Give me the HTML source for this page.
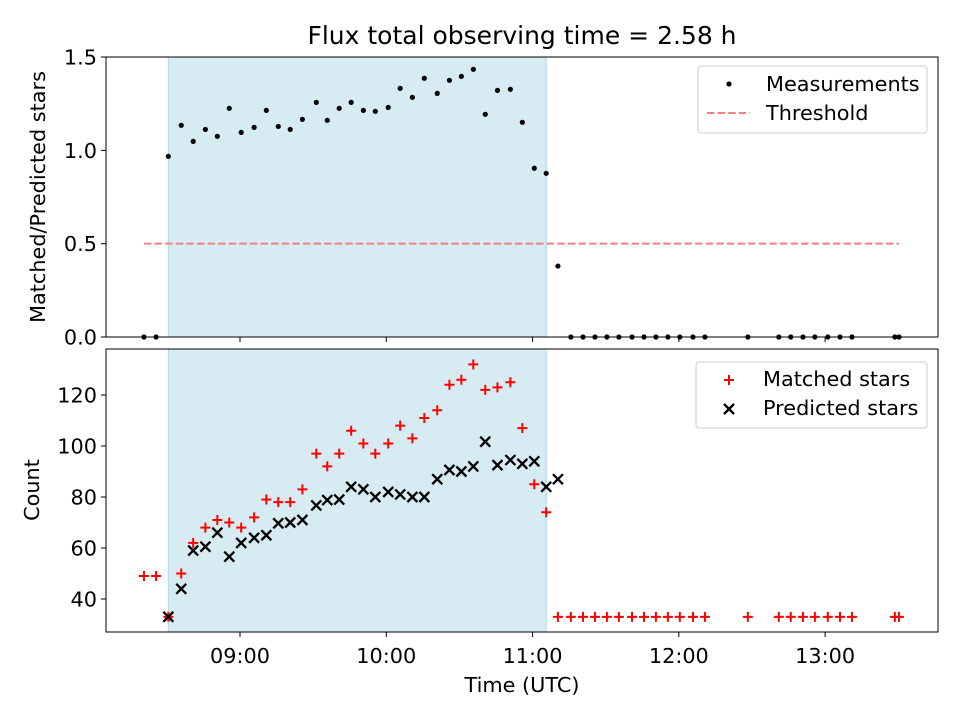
<!DOCTYPE html>
<html><head><meta charset="utf-8"><style>
body{margin:0;background:#fff}
svg{display:block;font-family:"DejaVu Sans","Liberation Sans",sans-serif}
</style></head><body>
<svg id="chart" width="960" height="720" viewBox="0 0 960 720" xmlns="http://www.w3.org/2000/svg"></svg>
<script>
// minutes after 08:00
const ratioTimes=[20.6,25.6,30.6,35.9,40.8,45.8,50.7,55.6,60.5,65.8,70.8,75.7,80.6,85.6,91.3,95.8,100.7,105.6,110.6,115.5,120.8,125.7,130.7,135.6,140.9,145.9,150.8,155.7,160.6,165.6,170.9,175.8,180.7,185.6,190.4,195.7,200.7,205.6,210.5,215.4,220.8,225.7,230.6,235.5,240.4,245.8,250.7,268.3,281.0,285.9,290.9,295.8,301.1,306.1,311.0,328.6,330.3];
const ratioValues=[0,0,0.968,1.134,1.048,1.112,1.075,1.225,1.096,1.123,1.214,1.128,1.112,1.166,1.257,1.161,1.225,1.257,1.214,1.209,1.230,1.332,1.284,1.386,1.305,1.375,1.396,1.434,1.193,1.321,1.327,1.150,0.904,0.877,0.38,0,0,0,0,0,0,0,0,0,0,0,0,0,0,0,0,0,0,0,0,0,0];
const matchedTimes=ratioTimes;
const matchedValues=[49,49,33,50,62,68,71,70,68,72,79,78,78,83,97,92,97,106,101,97,101,108,103,111,114,124,126,132,122,123,125,107,85,74,33,33,33,33,33,33,33,33,33,33,33,33,33,33,33,33,33,33,33,33,33,33,33];
const predictedTimes=[30.6,35.9,40.8,45.8,50.7,55.6,60.5,65.8,70.8,75.7,80.6,85.6,91.3,95.8,100.7,105.6,110.6,115.5,120.8,125.7,130.7,135.6,140.9,145.9,150.8,155.7,160.6,165.6,170.9,175.8,180.7,185.6,190.4];
const predictedValues=[33,44,59,60.5,66,56.6,62,64,65,69.7,70,71,76.7,78.8,79,84,83,80,82,81,80,80,87,90.6,90,92,101.7,92.5,94.5,93,94,84,87];
const threshold=0.5, thresholdRange=[20.6,330.3];
const observedRange=[30.6,185.6];
const xTicks=[60,120,180,240,300];
const xTickLabels=["09:00","10:00","11:00","12:00","13:00"];
const topTicks=[0,0.5,1.0,1.5], topTickLabels=["0.0","0.5","1.0","1.5"];
const botTicks=[40,60,80,100,120], botTickLabels=["40","60","80","100","120"];

const NS="http://www.w3.org/2000/svg", svg=document.getElementById('chart');
function mk(tag,attrs,parent,text){const e=document.createElementNS(NS,tag);for(const k in attrs)e.setAttribute(k,attrs[k]);if(text!==undefined)e.textContent=text;(parent||svg).appendChild(e);return e;}
const L=106,R=938;
const xs=m=>240+(m-60)*2.438;
const T={t:57,b:337}, B={t:349,b:632};
const yTop=v=>337-v*186.67;
const yBot=v=>395-(v-120)*2.55;
const LAB='20.8px', TICK='20.8px';

let g,e;
e=mk('text',{x:522,y:44,'text-anchor':'middle',style:'font-size:25px'},svg,'Flux total observing time = 2.58 h');



function panel(pt,pb,name){
  e=mk('rect',{x:xs(observedRange[0]),y:pt,width:xs(observedRange[1])-xs(observedRange[0]),height:pb-pt,fill:'#add8e6','fill-opacity':0.5,stroke:'#add8e6','stroke-width':1},svg);
  
  
}
panel(T.t,T.b,'top');panel(B.t,B.b,'bottom');

e=mk('line',{x1:xs(thresholdRange[0]),x2:xs(thresholdRange[1]),y1:yTop(threshold),y2:yTop(threshold),stroke:'#f08080','stroke-width':2,'stroke-dasharray':'7.4,3.2'});



g=mk('g',{});


ratioTimes.forEach((t,i)=>{const c=mk('circle',{cx:xs(t),cy:yTop(ratioValues[i]),r:2.6,fill:'#000'},g);

});

g=mk('g',{});


matchedTimes.forEach((t,i)=>{const x=xs(t),y=yBot(matchedValues[i]);const p=mk('path',{d:`M${x-5},${y}H${x+5}M${x},${y-5}V${y+5}`,stroke:'#f00','stroke-width':2},g);

});

g=mk('g',{});


predictedTimes.forEach((t,i)=>{const x=xs(t),y=yBot(predictedValues[i]);const p=mk('path',{d:`M${x-5},${y-5}L${x+5},${y+5}M${x-5},${y+5}L${x+5},${y-5}`,stroke:'#000','stroke-width':2.3},g);

});

e=mk('rect',{x:L,y:T.t,width:R-L,height:T.b-T.t,fill:'none',stroke:'#000','stroke-width':1});


e=mk('rect',{x:L,y:B.t,width:R-L,height:B.b-B.t,fill:'none',stroke:'#000','stroke-width':1});



xTicks.forEach((m,i)=>{const x=xs(m);
 mk('line',{x1:x,x2:x,y1:T.b,y2:T.b+5,stroke:'#000'});
 mk('line',{x1:x,x2:x,y1:B.b,y2:B.b+5,stroke:'#000'});
 const t=mk('text',{x:x,y:663,'text-anchor':'middle',style:'font-size:'+TICK},svg,xTickLabels[i]);
 
 });
topTicks.forEach((v,i)=>{const y=yTop(v);mk('line',{x1:L-5,x2:L,y1:y,y2:y,stroke:'#000'});
 const t=mk('text',{x:L-9,y:y+7.5,'text-anchor':'end',style:'font-size:'+TICK},svg,topTickLabels[i]);
 
 });
botTicks.forEach((v,i)=>{const y=yBot(v);mk('line',{x1:L-5,x2:L,y1:y,y2:y,stroke:'#000'});
 const t=mk('text',{x:L-9,y:y+7.5,'text-anchor':'end',style:'font-size:'+TICK},svg,botTickLabels[i]);
 
 });

e=mk('text',{x:522,y:692,'text-anchor':'middle',style:'font-size:'+LAB},svg,'Time (UTC)');


e=mk('text',{x:0,y:0,'text-anchor':'middle',style:'font-size:'+LAB,transform:'translate(45,197) rotate(-90)'},svg,'Matched/Predicted stars');


e=mk('text',{x:0,y:0,'text-anchor':'middle',style:'font-size:'+LAB,transform:'translate(39,490) rotate(-90)'},svg,'Count');



g=mk('g',{});


mk('rect',{x:698,y:66,width:229,height:67,rx:3,fill:'#fff','fill-opacity':0.8,stroke:'#ccc'},g);
mk('circle',{cx:729,cy:84,r:2.6,fill:'#000'},g);
e=mk('text',{x:766,y:91,style:'font-size:'+LAB},g,'Measurements');


mk('line',{x1:707,x2:750,y1:113,y2:113,stroke:'#f08080','stroke-width':2,'stroke-dasharray':'7.4,3.2'},g);
e=mk('text',{x:766,y:120,style:'font-size:'+LAB},g,'Threshold');



g=mk('g',{});


mk('rect',{x:696,y:362,width:231,height:66,rx:3,fill:'#fff','fill-opacity':0.8,stroke:'#ccc'},g);
mk('path',{d:'M724,380H734M729,375V385',stroke:'#f00','stroke-width':2},g);
e=mk('text',{x:763,y:386,style:'font-size:'+LAB},g,'Matched stars');


mk('path',{d:'M724,404L734,414M724,414L734,404',stroke:'#000','stroke-width':2.3},g);
e=mk('text',{x:763,y:415,style:'font-size:'+LAB},g,'Predicted stars');


</script>
</body></html>
